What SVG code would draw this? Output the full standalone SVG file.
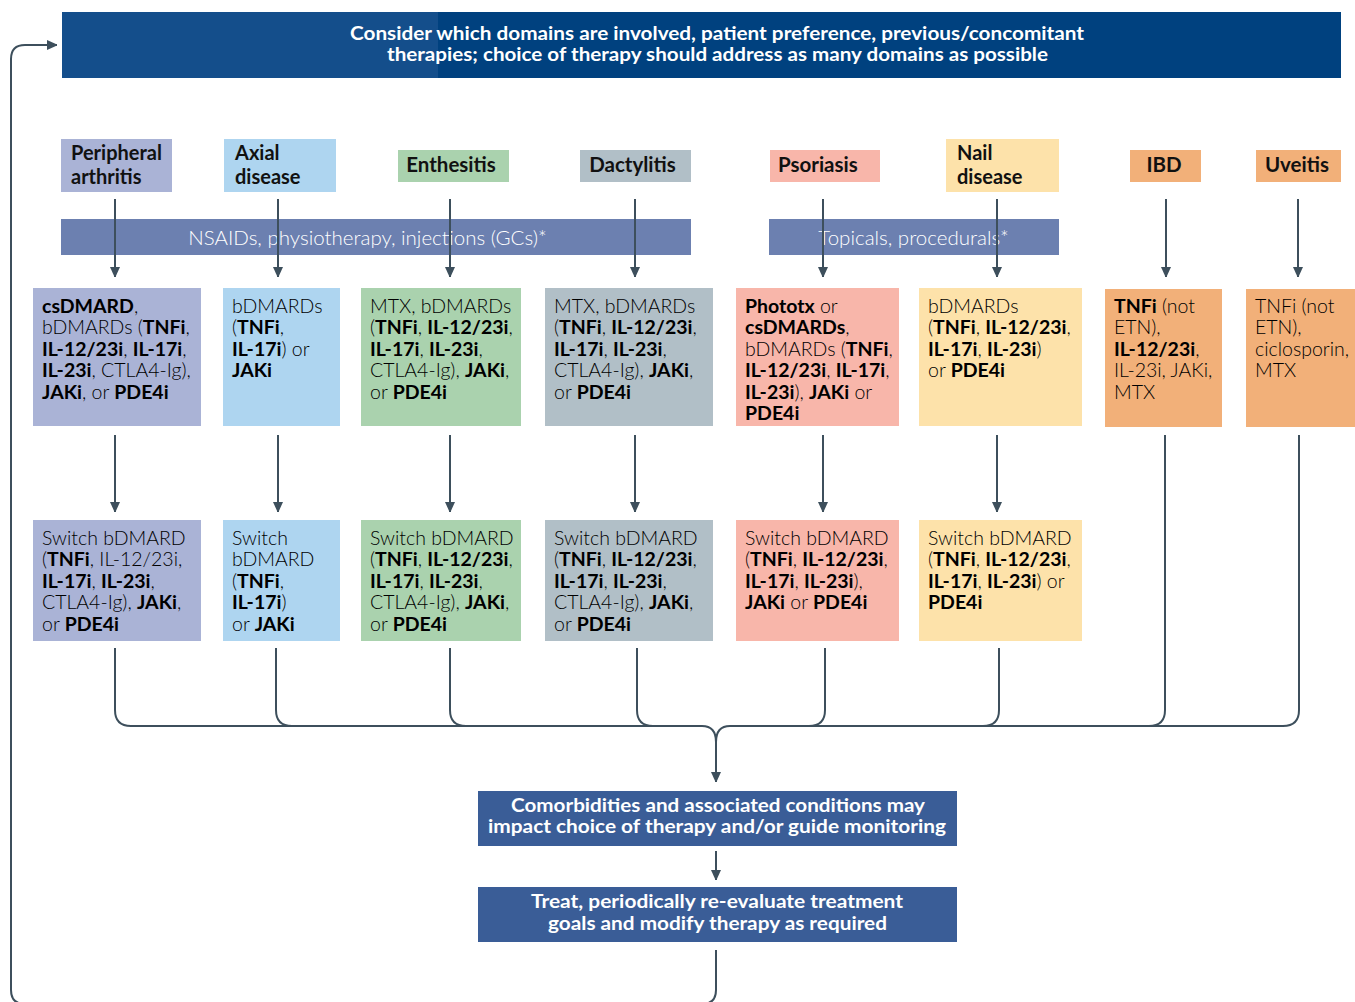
<svg xmlns="http://www.w3.org/2000/svg" width="1355" height="1002" viewBox="0 0 1355 1002">
<style>
.t{font-family:Lato,"Liberation Sans",sans-serif;font-size:19.5px;fill:#000;font-weight:300}
.b{font-weight:700}
.h{font-family:Lato,"Liberation Sans",sans-serif;font-size:20.5px;font-weight:700;fill:#111}
.h2{font-size:20px}
.w{font-family:Lato,"Liberation Sans",sans-serif;font-size:19px;fill:#fff;text-anchor:middle}
.wb{font-weight:700}
.wl{font-weight:300;font-size:20.5px}
.ln{fill:none;stroke:#3d4f5c;stroke-width:2}
.pa{fill:#aab3d6}.ax{fill:#aed5f0}.en{fill:#aad2ae}.da{fill:#b1bfc7}.ps{fill:#f8b6aa}.na{fill:#fde2aa}.or{fill:#f2b079}
.bar{fill:#6c80b0}.dk{fill:#3a5d97}
</style>
<defs>
<marker id="ah" markerWidth="10" markerHeight="12" refX="10" refY="5" orient="auto" markerUnits="userSpaceOnUse">
<path d="M0,0 L11,5 L0,10 Z" fill="#3d4f5c"/>
</marker>
</defs>

<g id="banner">
<rect x="62" y="12" width="377" height="66" fill="#144e8b"/>
<rect x="438" y="12" width="903" height="66" fill="#00417f"/>
<text class="w wb" x="717" y="39.5" textLength="734" lengthAdjust="spacingAndGlyphs">Consider which domains are involved, patient preference, previous/concomitant</text>
<text class="w wb" x="717.5" y="61" textLength="661" lengthAdjust="spacingAndGlyphs">therapies; choice of therapy should address as many domains as possible</text>
</g>

<g id="h-pa"><rect class="pa" x="61" y="139" width="111" height="53"/><text class="h h2" x="71" y="160">Peripheral<tspan x="71" dy="24">arthritis</tspan></text></g>
<g id="h-ax"><rect class="ax" x="224" y="139" width="112" height="53"/><text class="h h2" x="235" y="160">Axial<tspan x="235" dy="24">disease</tspan></text></g>
<g id="h-en"><rect class="en" x="398" y="150" width="111" height="32"/><text class="h" x="451" y="172" text-anchor="middle">Enthesitis</text></g>
<g id="h-da"><rect class="da" x="580" y="150" width="111" height="32"/><text class="h" x="632.5" y="172" text-anchor="middle">Dactylitis</text></g>
<g id="h-ps"><rect class="ps" x="770" y="150" width="110" height="32"/><text class="h" x="778" y="172">Psoriasis</text></g>
<g id="h-na"><rect class="na" x="946" y="139" width="113" height="53"/><text class="h h2" x="957" y="160">Nail<tspan x="957" dy="24">disease</tspan></text></g>
<g id="h-ibd"><rect class="or" x="1130" y="150" width="71" height="32"/><text class="h" x="1164" y="172" text-anchor="middle">IBD</text></g>
<g id="h-uv"><rect class="or" x="1256" y="150" width="85" height="32"/><text class="h" x="1297" y="172" text-anchor="middle">Uveitis</text></g>

<g id="bar-nsaid"><rect class="bar" x="61" y="219" width="630" height="36"/><text class="w wl" x="367.5" y="244.5">NSAIDs, physiotherapy, injections (GCs)*</text></g>
<g id="bar-topical"><rect class="bar" x="769" y="219" width="290" height="36"/><text class="w wl" x="913.5" y="244.5">Topicals, procedurals*</text></g>

<g id="r1-pa"><rect class="pa" x="33" y="288" width="168" height="138"/>
<text class="t" x="42" y="312.5"><tspan class="b">csDMARD</tspan>,<tspan x="42" dy="21.5">bDMARDs (<tspan class="b">TNFi</tspan>,</tspan><tspan x="42" dy="21.5"><tspan class="b">IL-12/23i</tspan>, <tspan class="b">IL-17i</tspan>,</tspan><tspan x="42" dy="21.5"><tspan class="b">IL-23i</tspan>, CTLA4-Ig),</tspan><tspan x="42" dy="21.5"><tspan class="b">JAKi</tspan>, or <tspan class="b">PDE4i</tspan></tspan></text></g>
<g id="r1-ax"><rect class="ax" x="223" y="288" width="117" height="138"/>
<text class="t" x="232" y="312.5">bDMARDs<tspan x="232" dy="21.5">(<tspan class="b">TNFi</tspan>,</tspan><tspan x="232" dy="21.5"><tspan class="b">IL-17i</tspan>) or</tspan><tspan x="232" dy="21.5" class="b">JAKi</tspan></text></g>
<g id="r1-en"><rect class="en" x="361" y="288" width="160" height="138"/>
<text class="t" x="370" y="312.5">MTX, bDMARDs<tspan x="370" dy="21.5">(<tspan class="b">TNFi</tspan>, <tspan class="b">IL-12/23i</tspan>,</tspan><tspan x="370" dy="21.5"><tspan class="b">IL-17i</tspan>, <tspan class="b">IL-23i</tspan>,</tspan><tspan x="370" dy="21.5">CTLA4-Ig), <tspan class="b">JAKi</tspan>,</tspan><tspan x="370" dy="21.5">or <tspan class="b">PDE4i</tspan></tspan></text></g>
<g id="r1-da"><rect class="da" x="545" y="288" width="168" height="138"/>
<text class="t" x="554" y="312.5">MTX, bDMARDs<tspan x="554" dy="21.5">(<tspan class="b">TNFi</tspan>, <tspan class="b">IL-12/23i</tspan>,</tspan><tspan x="554" dy="21.5"><tspan class="b">IL-17i</tspan>, <tspan class="b">IL-23i</tspan>,</tspan><tspan x="554" dy="21.5">CTLA4-Ig), <tspan class="b">JAKi</tspan>,</tspan><tspan x="554" dy="21.5">or <tspan class="b">PDE4i</tspan></tspan></text></g>
<g id="r1-ps"><rect class="ps" x="736" y="288" width="163" height="138"/>
<text class="t" x="745" y="312.5"><tspan class="b">Phototx</tspan> or<tspan x="745" dy="21.5"><tspan class="b">csDMARDs</tspan>,</tspan><tspan x="745" dy="21.5">bDMARDs (<tspan class="b">TNFi</tspan>,</tspan><tspan x="745" dy="21.5"><tspan class="b">IL-12/23i</tspan>, <tspan class="b">IL-17i</tspan>,</tspan><tspan x="745" dy="21.5"><tspan class="b">IL-23i</tspan>), <tspan class="b">JAKi</tspan> or</tspan><tspan x="745" dy="21.5" class="b">PDE4i</tspan></text></g>
<g id="r1-na"><rect class="na" x="919" y="288" width="163" height="138"/>
<text class="t" x="928" y="312.5">bDMARDs<tspan x="928" dy="21.5">(<tspan class="b">TNFi</tspan>, <tspan class="b">IL-12/23i</tspan>,</tspan><tspan x="928" dy="21.5"><tspan class="b">IL-17i</tspan>, <tspan class="b">IL-23i</tspan>)</tspan><tspan x="928" dy="21.5">or <tspan class="b">PDE4i</tspan></tspan></text></g>
<g id="r1-ibd"><rect class="or" x="1105" y="289" width="117" height="138"/>
<text class="t" x="1114" y="312.5"><tspan class="b">TNFi</tspan> (not<tspan x="1114" dy="21.5">ETN),</tspan><tspan x="1114" dy="21.5"><tspan class="b">IL-12/23i</tspan>,</tspan><tspan x="1114" dy="21.5">IL-23i, JAKi,</tspan><tspan x="1114" dy="21.5">MTX</tspan></text></g>
<g id="r1-uv"><rect class="or" x="1246" y="289" width="109" height="138"/>
<text class="t" x="1255" y="312.5">TNFi (not<tspan x="1255" dy="21.5">ETN),</tspan><tspan x="1255" dy="21.5">ciclosporin,</tspan><tspan x="1255" dy="21.5">MTX</tspan></text></g>

<g id="r2-pa"><rect class="pa" x="33" y="520" width="168" height="121"/>
<text class="t" x="42" y="544.5">Switch bDMARD<tspan x="42" dy="21.5">(<tspan class="b">TNFi</tspan>, IL-12/23i,</tspan><tspan x="42" dy="21.5"><tspan class="b">IL-17i</tspan>, <tspan class="b">IL-23i</tspan>,</tspan><tspan x="42" dy="21.5">CTLA4-Ig), <tspan class="b">JAKi</tspan>,</tspan><tspan x="42" dy="21.5">or <tspan class="b">PDE4i</tspan></tspan></text></g>
<g id="r2-ax"><rect class="ax" x="223" y="520" width="117" height="121"/>
<text class="t" x="232" y="544.5">Switch<tspan x="232" dy="21.5">bDMARD</tspan><tspan x="232" dy="21.5">(<tspan class="b">TNFi</tspan>,</tspan><tspan x="232" dy="21.5"><tspan class="b">IL-17i</tspan>)</tspan><tspan x="232" dy="21.5">or <tspan class="b">JAKi</tspan></tspan></text></g>
<g id="r2-en"><rect class="en" x="361" y="520" width="160" height="121"/>
<text class="t" x="370" y="544.5">Switch bDMARD<tspan x="370" dy="21.5">(<tspan class="b">TNFi</tspan>, <tspan class="b">IL-12/23i</tspan>,</tspan><tspan x="370" dy="21.5"><tspan class="b">IL-17i</tspan>, <tspan class="b">IL-23i</tspan>,</tspan><tspan x="370" dy="21.5">CTLA4-Ig), <tspan class="b">JAKi</tspan>,</tspan><tspan x="370" dy="21.5">or <tspan class="b">PDE4i</tspan></tspan></text></g>
<g id="r2-da"><rect class="da" x="545" y="520" width="168" height="121"/>
<text class="t" x="554" y="544.5">Switch bDMARD<tspan x="554" dy="21.5">(<tspan class="b">TNFi</tspan>, <tspan class="b">IL-12/23i</tspan>,</tspan><tspan x="554" dy="21.5"><tspan class="b">IL-17i</tspan>, <tspan class="b">IL-23i</tspan>,</tspan><tspan x="554" dy="21.5">CTLA4-Ig), <tspan class="b">JAKi</tspan>,</tspan><tspan x="554" dy="21.5">or <tspan class="b">PDE4i</tspan></tspan></text></g>
<g id="r2-ps"><rect class="ps" x="736" y="520" width="163" height="121"/>
<text class="t" x="745" y="544.5">Switch bDMARD<tspan x="745" dy="21.5">(<tspan class="b">TNFi</tspan>, <tspan class="b">IL-12/23i</tspan>,</tspan><tspan x="745" dy="21.5"><tspan class="b">IL-17i</tspan>, <tspan class="b">IL-23i</tspan>),</tspan><tspan x="745" dy="21.5"><tspan class="b">JAKi</tspan> or <tspan class="b">PDE4i</tspan></tspan></text></g>
<g id="r2-na"><rect class="na" x="919" y="520" width="163" height="121"/>
<text class="t" x="928" y="544.5">Switch bDMARD<tspan x="928" dy="21.5">(<tspan class="b">TNFi</tspan>, <tspan class="b">IL-12/23i</tspan>,</tspan><tspan x="928" dy="21.5"><tspan class="b">IL-17i</tspan>, <tspan class="b">IL-23i</tspan>) or</tspan><tspan x="928" dy="21.5" class="b">PDE4i</tspan></text></g>

<g id="comorb"><rect class="dk" x="478" y="791" width="479" height="55"/>
<text class="w wb" x="718" y="811.5" textLength="414" lengthAdjust="spacingAndGlyphs">Comorbidities and associated conditions may</text>
<text class="w wb" x="717" y="832.5" textLength="458" lengthAdjust="spacingAndGlyphs">impact choice of therapy and/or guide monitoring</text></g>
<g id="treat"><rect class="dk" x="478" y="887" width="479" height="55"/>
<text class="w wb" x="717" y="907.5" textLength="372" lengthAdjust="spacingAndGlyphs">Treat, periodically re-evaluate treatment</text>
<text class="w wb" x="717.5" y="929.5" textLength="339" lengthAdjust="spacingAndGlyphs">goals and modify therapy as required</text></g>

<g id="connectors">
<path class="ln" marker-end="url(#ah)" d="M115,199 V277"/>
<path class="ln" marker-end="url(#ah)" d="M278,199 V277"/>
<path class="ln" marker-end="url(#ah)" d="M450,199 V277"/>
<path class="ln" marker-end="url(#ah)" d="M635,199 V277"/>
<path class="ln" marker-end="url(#ah)" d="M823,199 V277"/>
<path class="ln" marker-end="url(#ah)" d="M997,199 V277"/>
<path class="ln" marker-end="url(#ah)" d="M1166,199 V277"/>
<path class="ln" marker-end="url(#ah)" d="M1298,199 V277"/>

<path class="ln" marker-end="url(#ah)" d="M115,435 V512"/>
<path class="ln" marker-end="url(#ah)" d="M278,435 V512"/>
<path class="ln" marker-end="url(#ah)" d="M450,435 V512"/>
<path class="ln" marker-end="url(#ah)" d="M635,435 V512"/>
<path class="ln" marker-end="url(#ah)" d="M823,435 V512"/>
<path class="ln" marker-end="url(#ah)" d="M997,435 V512"/>

<path class="ln" d="M115,648 V710 Q115,726 131,726 H702 Q716,726 716,742"/>
<path class="ln" d="M276,648 V710 Q276,726 292,726"/>
<path class="ln" d="M450,648 V710 Q450,726 466,726"/>
<path class="ln" d="M637,648 V710 Q637,726 653,726"/>
<path class="ln" d="M825,648 V710 Q825,726 809,726"/>
<path class="ln" d="M999,648 V710 Q999,726 983,726"/>
<path class="ln" d="M1165,435 V710 Q1165,726 1149,726"/>
<path class="ln" d="M1299,435 V710 Q1299,726 1283,726 H730 Q716,726 716,742"/>
<path class="ln" marker-end="url(#ah)" d="M716,740 V782"/>

<path class="ln" marker-end="url(#ah)" d="M716,851 V880"/>
<path class="ln" marker-end="url(#ah)" d="M716,950 V990 Q716,1004 702,1004 H25 Q11,1004 11,990 V59 Q11,45 25,45 H57"/>
</g>
</svg>
